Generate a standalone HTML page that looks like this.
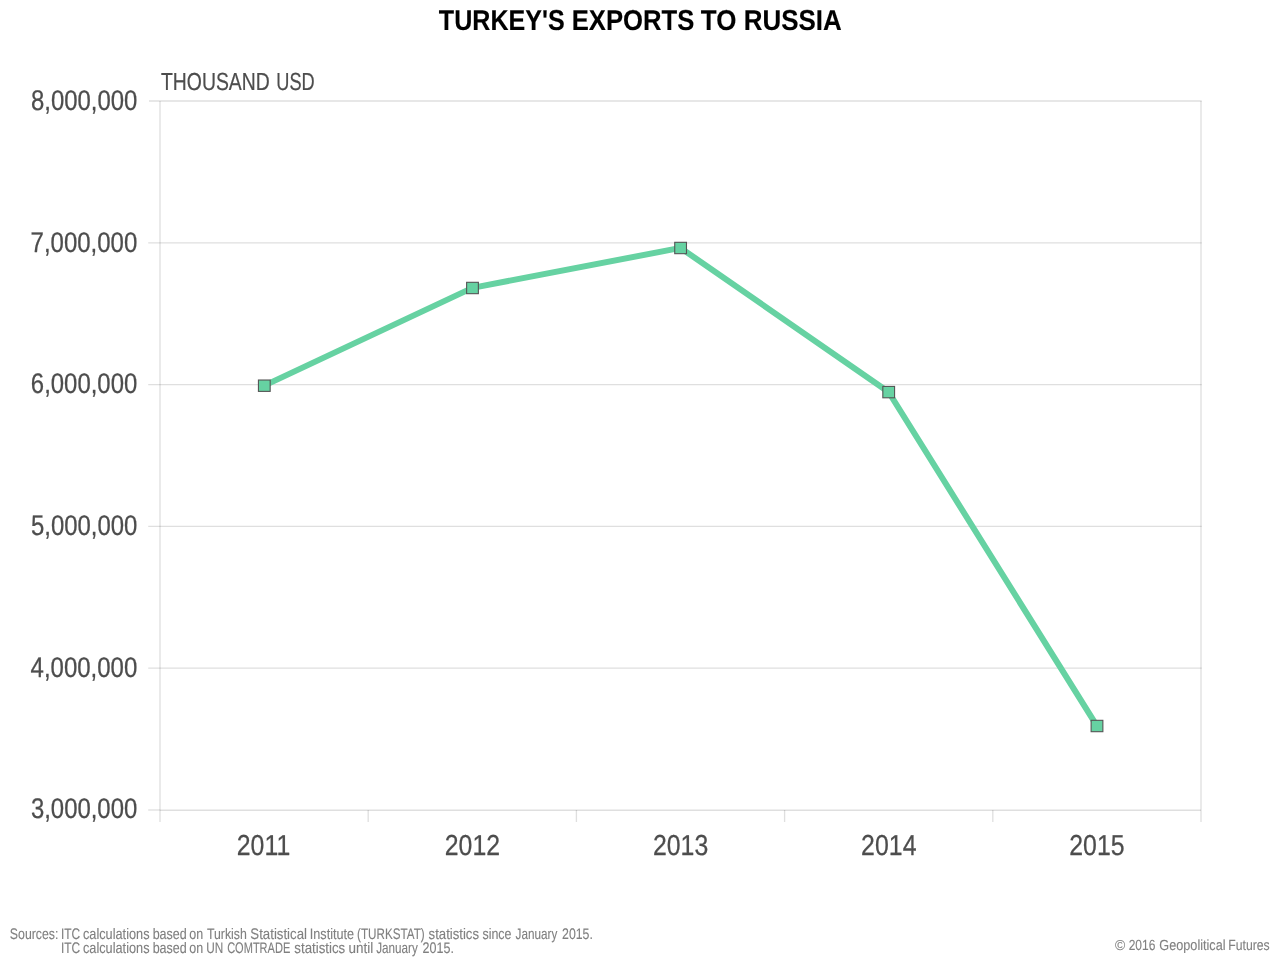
<!DOCTYPE html>
<html lang="en">
<head>
<meta charset="utf-8">
<title>Turkey's Exports to Russia</title>
<style>
html,body{margin:0;padding:0;background:#fff;}
body{width:1280px;height:960px;overflow:hidden;}
svg{display:block;font-family:"Liberation Sans",sans-serif;text-rendering:geometricPrecision;}
</style>
</head>
<body>
<svg width="1280" height="960" viewBox="0 0 1280 960">
<rect x="0" y="0" width="1280" height="960" fill="#ffffff"/>
<g stroke="#000000" stroke-opacity="0.125" stroke-width="1.333" fill="none">
<line x1="149.0" y1="101.00" x2="1201.67" y2="101.00"/>
<line x1="148.2" y1="242.80" x2="1201.67" y2="242.80"/>
<line x1="148.2" y1="384.60" x2="1201.67" y2="384.60"/>
<line x1="148.2" y1="526.40" x2="1201.67" y2="526.40"/>
<line x1="148.2" y1="668.20" x2="1201.67" y2="668.20"/>
<line x1="148.2" y1="810.0" x2="160.0" y2="810.0"/>
<line x1="160.0" y1="101.00" x2="160.0" y2="822"/>
<line x1="1201.0" y1="101.00" x2="1201.0" y2="822"/>
<line x1="368.20" y1="810.0" x2="368.20" y2="822"/>
<line x1="576.40" y1="810.0" x2="576.40" y2="822"/>
<line x1="784.60" y1="810.0" x2="784.60" y2="822"/>
<line x1="992.80" y1="810.0" x2="992.80" y2="822"/>
<line x1="160.0" y1="810.3" x2="1201.0" y2="810.3" stroke-width="1.5"/>
</g>
<polyline fill="none" stroke="#66d2a2" stroke-width="6" stroke-linejoin="round" points="264.2,385.6 472.4,287.9 680.5,247.9 888.6,392.0 1096.9,725.9"/>
<g fill="#66d2a2" stroke="#555555" stroke-width="1.1">
<rect x="258.43" y="380.02" width="11.75" height="11.37"/>
<rect x="466.62" y="282.31" width="11.75" height="11.37"/>
<rect x="674.73" y="242.31" width="11.75" height="11.37"/>
<rect x="882.83" y="386.42" width="11.75" height="11.37"/>
<rect x="1091.12" y="720.32" width="11.75" height="11.37"/>
</g>
<text transform="translate(0,30.00) scale(1,0.3)" font-size="95.93" font-weight="700" fill="#000000" stroke="#000000" stroke-width="0.45" stroke-linejoin="round"><tspan x="438.87" textLength="125.81" lengthAdjust="spacingAndGlyphs">TURKEY'S</tspan> <tspan x="571.76" textLength="122.62" lengthAdjust="spacingAndGlyphs">EXPORTS</tspan> <tspan x="700.77" textLength="35.53" lengthAdjust="spacingAndGlyphs">TO</tspan> <tspan x="743.64" textLength="98.08" lengthAdjust="spacingAndGlyphs">RUSSIA</tspan></text>
<text transform="translate(0,90.00) scale(1,0.3)" font-size="82.36" fill="#4d4d4d" stroke="#4d4d4d" stroke-width="0.75" stroke-linejoin="round"><tspan x="160.99" textLength="108.84" lengthAdjust="spacingAndGlyphs">THOUSAND</tspan> <tspan x="276.31" textLength="38.46" lengthAdjust="spacingAndGlyphs">USD</tspan></text>
<text transform="translate(30.99,110.00) scale(1,0.3)" font-size="94.96" fill="#4d4d4d" stroke="#4d4d4d" stroke-width="0.9" stroke-linejoin="round" textLength="106.26" lengthAdjust="spacingAndGlyphs">8,000,000</text>
<text transform="translate(30.55,252.00) scale(1,0.3)" font-size="94.96" fill="#4d4d4d" stroke="#4d4d4d" stroke-width="0.9" stroke-linejoin="round" textLength="106.71" lengthAdjust="spacingAndGlyphs">7,000,000</text>
<text transform="translate(30.85,393.00) scale(1,0.3)" font-size="94.96" fill="#4d4d4d" stroke="#4d4d4d" stroke-width="0.9" stroke-linejoin="round" textLength="106.40" lengthAdjust="spacingAndGlyphs">6,000,000</text>
<text transform="translate(30.99,535.00) scale(1,0.3)" font-size="94.96" fill="#4d4d4d" stroke="#4d4d4d" stroke-width="0.9" stroke-linejoin="round" textLength="106.26" lengthAdjust="spacingAndGlyphs">5,000,000</text>
<text transform="translate(30.57,677.00) scale(1,0.3)" font-size="94.96" fill="#4d4d4d" stroke="#4d4d4d" stroke-width="0.9" stroke-linejoin="round" textLength="106.69" lengthAdjust="spacingAndGlyphs">4,000,000</text>
<text transform="translate(30.91,818.00) scale(1,0.3)" font-size="94.96" fill="#4d4d4d" stroke="#4d4d4d" stroke-width="0.9" stroke-linejoin="round" textLength="106.35" lengthAdjust="spacingAndGlyphs">3,000,000</text>
<text transform="translate(236.71,855.00) scale(1,0.3)" font-size="96.41" fill="#4d4d4d" stroke="#4d4d4d" stroke-width="0.9" stroke-linejoin="round" textLength="53.51" lengthAdjust="spacingAndGlyphs">2011</text>
<text transform="translate(444.71,855.00) scale(1,0.3)" font-size="96.41" fill="#4d4d4d" stroke="#4d4d4d" stroke-width="0.9" stroke-linejoin="round" textLength="55.36" lengthAdjust="spacingAndGlyphs">2012</text>
<text transform="translate(652.91,855.00) scale(1,0.3)" font-size="96.41" fill="#4d4d4d" stroke="#4d4d4d" stroke-width="0.9" stroke-linejoin="round" textLength="55.36" lengthAdjust="spacingAndGlyphs">2013</text>
<text transform="translate(861.11,855.00) scale(1,0.3)" font-size="96.41" fill="#4d4d4d" stroke="#4d4d4d" stroke-width="0.9" stroke-linejoin="round" textLength="55.36" lengthAdjust="spacingAndGlyphs">2014</text>
<text transform="translate(1069.21,855.00) scale(1,0.3)" font-size="96.41" fill="#4d4d4d" stroke="#4d4d4d" stroke-width="0.9" stroke-linejoin="round" textLength="55.36" lengthAdjust="spacingAndGlyphs">2015</text>
<text transform="translate(0,939.00) scale(1,0.3)" font-size="50.87" fill="#808080" stroke="#808080" stroke-width="0.4" stroke-linejoin="round"><tspan x="9.85" textLength="48.52" lengthAdjust="spacingAndGlyphs">Sources:</tspan> <tspan x="61.03" textLength="19.20" lengthAdjust="spacingAndGlyphs">ITC</tspan> <tspan x="82.94" textLength="66.56" lengthAdjust="spacingAndGlyphs">calculations</tspan> <tspan x="152.63" textLength="34.16" lengthAdjust="spacingAndGlyphs">based</tspan> <tspan x="189.20" textLength="13.88" lengthAdjust="spacingAndGlyphs">on</tspan> <tspan x="206.95" textLength="39.85" lengthAdjust="spacingAndGlyphs">Turkish</tspan> <tspan x="250.35" textLength="56.61" lengthAdjust="spacingAndGlyphs">Statistical</tspan> <tspan x="309.81" textLength="44.27" lengthAdjust="spacingAndGlyphs">Institute</tspan> <tspan x="357.00" textLength="67.70" lengthAdjust="spacingAndGlyphs">(TURKSTAT)</tspan> <tspan x="428.62" textLength="50.38" lengthAdjust="spacingAndGlyphs">statistics</tspan> <tspan x="482.39" textLength="29.16" lengthAdjust="spacingAndGlyphs">since</tspan> <tspan x="515.52" textLength="41.75" lengthAdjust="spacingAndGlyphs">January</tspan> <tspan x="562.08" textLength="30.79" lengthAdjust="spacingAndGlyphs">2015.</tspan></text>
<text transform="translate(0,953.00) scale(1,0.3)" font-size="50.87" fill="#808080" stroke="#808080" stroke-width="0.4" stroke-linejoin="round"><tspan x="61.03" textLength="19.20" lengthAdjust="spacingAndGlyphs">ITC</tspan> <tspan x="82.94" textLength="66.56" lengthAdjust="spacingAndGlyphs">calculations</tspan> <tspan x="152.63" textLength="34.16" lengthAdjust="spacingAndGlyphs">based</tspan> <tspan x="189.20" textLength="13.88" lengthAdjust="spacingAndGlyphs">on</tspan> <tspan x="206.32" textLength="16.97" lengthAdjust="spacingAndGlyphs">UN</tspan> <tspan x="227.15" textLength="63.12" lengthAdjust="spacingAndGlyphs">COMTRADE</tspan> <tspan x="294.37" textLength="50.88" lengthAdjust="spacingAndGlyphs">statistics</tspan> <tspan x="348.58" textLength="24.66" lengthAdjust="spacingAndGlyphs">until</tspan> <tspan x="376.28" textLength="41.50" lengthAdjust="spacingAndGlyphs">January</tspan> <tspan x="422.57" textLength="31.32" lengthAdjust="spacingAndGlyphs">2015.</tspan></text>
<text transform="translate(0,950.00) scale(1,0.3)" font-size="48.93" fill="#828282" stroke="#828282" stroke-width="0.4" stroke-linejoin="round"><tspan x="1114.89" font-size="47.97" textLength="10.27" lengthAdjust="spacingAndGlyphs">©</tspan> <tspan x="1128.70" textLength="26.68" lengthAdjust="spacingAndGlyphs">2016</tspan> <tspan x="1159.37" textLength="66.16" lengthAdjust="spacingAndGlyphs">Geopolitical</tspan> <tspan x="1228.32" textLength="41.41" lengthAdjust="spacingAndGlyphs">Futures</tspan></text>
</svg>
</body>
</html>
